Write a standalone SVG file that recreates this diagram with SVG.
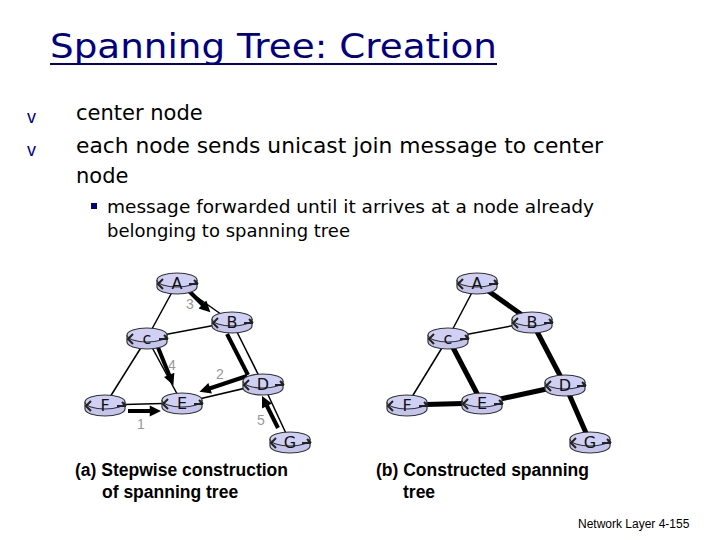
<svg xmlns="http://www.w3.org/2000/svg" xmlns:xlink="http://www.w3.org/1999/xlink" width="720" height="540" viewBox="0 0 720 540">
<style>
.title{font-family:"DejaVu Sans",sans-serif;font-size:34px;fill:#000080}
.body{font-family:"DejaVu Sans",sans-serif;font-size:21px;fill:#000}
.sub{font-family:"DejaVu Sans",sans-serif;font-size:17px;fill:#000}
.bul{font-family:"Liberation Sans",sans-serif;font-size:18px;fill:#000080}
.cap{font-family:"Liberation Sans",Arial,sans-serif;font-size:17.5px;font-weight:bold;fill:#000}
.foot{font-family:"Liberation Sans",Arial,sans-serif;font-size:12px;fill:#000}
.lbl{font-family:"DejaVu Sans",sans-serif;font-size:16px;fill:#111;text-anchor:middle}
.num{font-family:"Liberation Sans",Arial,sans-serif;font-size:14px;fill:#999;text-anchor:middle}
.thin{stroke:#000;stroke-width:1.5;fill:none}
.thick{stroke:#000;stroke-width:5;fill:none}
.arr{stroke:#000;stroke-width:4;fill:none}
</style>
<defs>
<marker id="ah" viewBox="0 0 10 10" refX="2" refY="5" markerWidth="3.4" markerHeight="2.8" orient="auto" markerUnits="strokeWidth">
<path d="M0,0 L10,5 L0,10 z" fill="#000"/>
</marker>
<g id="rt">
<path d="M-20,-3 L-20,4 A20,7 0 0 0 20,4 L20,-3" fill="#c4c4ec" stroke="#333" stroke-width="1.2"/>
<ellipse cx="0" cy="-3" rx="20" ry="7" fill="#d0d0f4" stroke="#333" stroke-width="1.2"/>
<path d="M-14,-4 L-19,1 L-14,6" fill="none" stroke="#222" stroke-width="2"/>
<path d="M12,1 L21,1 M17,-3 L21,1" fill="none" stroke="#222" stroke-width="2"/>
</g>
</defs>
<rect width="720" height="540" fill="#fff"/>

<g id="title">
<text class="title" x="50" y="58" textLength="447" lengthAdjust="spacingAndGlyphs">Spanning Tree: Creation</text>
<line x1="50" y1="64" x2="497" y2="64" stroke="#000080" stroke-width="2"/>
</g>

<g id="bullets">
<text class="bul" x="27" y="123">v</text>
<text class="bul" x="27" y="156">v</text>
<text class="body" x="76" y="120">center node</text>
<text class="body" x="76" y="153" textLength="527" lengthAdjust="spacingAndGlyphs">each node sends unicast join message to center</text>
<text class="body" x="76" y="183">node</text>
<rect x="91" y="203" width="6" height="6" fill="#000080"/>
<text class="sub" x="107" y="213" textLength="487" lengthAdjust="spacingAndGlyphs">message forwarded until it arrives at a node already</text>
<text class="sub" x="107" y="237" textLength="243" lengthAdjust="spacingAndGlyphs">belonging to spanning tree</text>
</g>

<g id="connectors">
<line class="thin" x1="177" y1="283" x2="147" y2="338"/>
<line class="thin" x1="177" y1="283" x2="232" y2="322"/>
<line class="thin" x1="147" y1="338" x2="232" y2="322"/>
<line class="thin" x1="147" y1="338" x2="105" y2="405"/>
<line class="thin" x1="147" y1="338" x2="182" y2="403"/>
<line class="thin" x1="105" y1="405" x2="182" y2="403"/>
<line class="thin" x1="182" y1="403" x2="263" y2="384"/>
<line class="thin" x1="232" y1="322" x2="263" y2="384"/>
<line class="thin" x1="263" y1="384" x2="290" y2="442"/>
<line class="arr" x1="189" y1="291" x2="204" y2="306" marker-end="url(#ah)"/>
<line class="arr" x1="157" y1="345" x2="170" y2="377" marker-end="url(#ah)"/>
<line class="arr" x1="247" y1="376" x2="208" y2="389" marker-end="url(#ah)"/>
<line class="arr" x1="128" y1="411" x2="152" y2="411" marker-end="url(#ah)"/>
<line class="arr" x1="278" y1="428" x2="266" y2="404" marker-end="url(#ah)"/>
<line class="arr" x1="227" y1="334" x2="248" y2="375"/>
<line class="thin" x1="477" y1="283" x2="448" y2="338"/>
<line class="thin" x1="448" y1="338" x2="532" y2="322"/>
<line class="thin" x1="448" y1="338" x2="407" y2="405"/>
<line class="thick" x1="477" y1="283" x2="532" y2="322"/>
<line class="thick" x1="532" y1="322" x2="565" y2="385"/>
<line class="thick" x1="565" y1="385" x2="590" y2="442"/>
<line class="thick" x1="448" y1="338" x2="482" y2="403"/>
<line class="thick" x1="407" y1="405" x2="482" y2="403"/>
<line class="thick" x1="482" y1="403" x2="565" y2="385"/>
</g>

<g id="step-labels">
<text class="num" x="190" y="309">3</text>
<text class="num" x="172" y="370">4</text>
<text class="num" x="220" y="379">2</text>
<text class="num" x="141" y="429">1</text>
<text class="num" x="261" y="425">5</text>
</g>

<g id="a-A"><use xlink:href="#rt" x="177" y="283"/><text class="lbl" x="177" y="289">A</text></g>
<g id="a-B"><use xlink:href="#rt" x="232" y="322"/><text class="lbl" x="232" y="328">B</text></g>
<g id="a-c"><use xlink:href="#rt" x="147" y="338"/><text class="lbl" x="147" y="344">c</text></g>
<g id="a-D"><use xlink:href="#rt" x="263" y="384"/><text class="lbl" x="263" y="390">D</text></g>
<g id="a-E"><use xlink:href="#rt" x="182" y="403"/><text class="lbl" x="182" y="409">E</text></g>
<g id="a-F"><use xlink:href="#rt" x="105" y="405"/><text class="lbl" x="105" y="411">F</text></g>
<g id="a-G"><use xlink:href="#rt" x="290" y="442"/><text class="lbl" x="290" y="448">G</text></g>

<g id="b-A"><use xlink:href="#rt" x="477" y="283"/><text class="lbl" x="477" y="289">A</text></g>
<g id="b-B"><use xlink:href="#rt" x="532" y="322"/><text class="lbl" x="532" y="328">B</text></g>
<g id="b-c"><use xlink:href="#rt" x="448" y="338"/><text class="lbl" x="448" y="344">c</text></g>
<g id="b-D"><use xlink:href="#rt" x="565" y="385"/><text class="lbl" x="565" y="391">D</text></g>
<g id="b-E"><use xlink:href="#rt" x="482" y="403"/><text class="lbl" x="482" y="409">E</text></g>
<g id="b-F"><use xlink:href="#rt" x="407" y="405"/><text class="lbl" x="407" y="411">F</text></g>
<g id="b-G"><use xlink:href="#rt" x="590" y="442"/><text class="lbl" x="590" y="448">G</text></g>

<g id="captions">
<text class="cap" x="75" y="476">(a) Stepwise construction</text>
<text class="cap" x="102" y="498">of spanning tree</text>
<text class="cap" x="376" y="476">(b) Constructed spanning</text>
<text class="cap" x="403" y="498">tree</text>
<text class="foot" x="578" y="528">Network Layer 4-155</text>
</g>
</svg>
